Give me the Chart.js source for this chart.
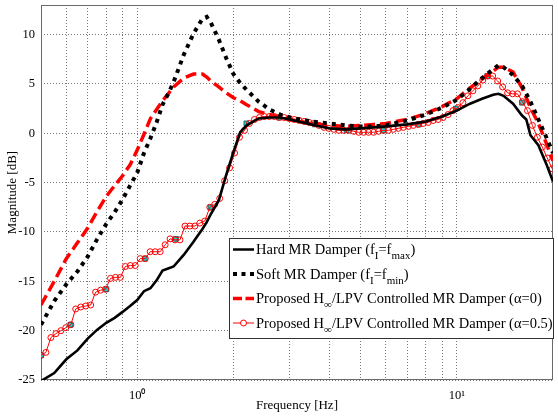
<!DOCTYPE html>
<html><head><meta charset="utf-8">
<script src="https://cdn.jsdelivr.net/npm/chart.js@4"></script>
<style>html,body{margin:0;padding:0;background:#fff;}canvas{display:block;}</style>
</head><body>
<canvas id="c" width="558" height="417"></canvas>
<script>
// ---- data ----
const freqLine = [0.5,0.55,0.6,0.65,0.7,0.75,0.8,0.85,0.9,0.95,1.0,1.05,1.1,1.15,1.2,1.25,1.3,1.4,1.5,1.6,1.65,1.7,1.8,1.9,2.0,2.1,2.2,2.4,2.6,2.8,3.0,3.5,4,4.5,5,5.5,6,7,8,9,10,11,12,13,13.5,14,15,16,16.5,17,18,19,20];
const hardMR = [-25.1,-24.3,-22.9,-22.0,-20.8,-19.9,-19.2,-18.7,-18.1,-17.5,-16.9,-16.0,-15.7,-14.9,-13.9,-13.7,-13.5,-12.3,-11.0,-9.7,-9.0,-8.2,-6.8,-4.2,-1.9,0.1,0.8,1.5,1.6,1.6,1.4,0.9,0.5,0.4,0.5,0.6,0.7,0.9,1.2,1.7,2.3,3.0,3.5,3.9,4.0,3.8,3.0,1.8,1.4,-0.2,-1.2,-3.0,-4.9];
const softMR = [-19.4,-17.0,-15.3,-14.0,-12.5,-10.7,-9.2,-8.0,-6.7,-5.3,-4.0,-2.0,-0.5,1.1,2.9,4.0,5.2,8.0,10.1,11.6,11.8,11.2,9.5,7.6,6.0,5.1,4.4,3.2,2.4,1.9,1.6,1.2,1.0,0.8,0.7,0.7,0.8,1.3,1.9,2.6,3.4,4.5,5.6,6.5,6.9,6.7,5.9,4.8,4.0,3.2,1.4,-0.3,-2.0];
const hinfAlpha0 = [-17.4,-15.0,-12.7,-11.1,-9.6,-7.9,-6.4,-5.3,-4.3,-3.2,-1.7,-0.1,1.5,2.4,3.3,4.0,4.7,5.6,6.0,6.0,5.7,5.3,4.7,4.1,3.6,3.3,2.9,2.2,1.9,1.6,1.4,1.0,0.8,0.7,0.8,0.9,1.0,1.4,2.0,2.7,3.5,4.6,5.5,6.3,6.7,6.7,6.2,4.6,3.6,2.6,1.0,-0.9,-2.8];
const freqCircle = [0.500,0.518,0.537,0.557,0.577,0.598,0.620,0.642,0.666,0.690,0.715,0.741,0.768,0.796,0.825,0.855,0.886,0.918,0.952,0.986,1.022,1.060,1.098,1.138,1.180,1.223,1.267,1.313,1.361,1.411,1.462,1.515,1.570,1.627,1.687,1.748,1.812,1.878,1.946,2.017,2.090,2.167,2.245,2.327,2.412,2.500,2.591,2.685,2.783,2.884,2.989,3.098,3.211,3.328,3.449,3.574,3.705,3.839,3.979,4.124,4.274,4.430,4.591,4.758,4.932,5.111,5.297,5.490,5.690,5.897,6.112,6.334,6.565,6.804,7.052,7.309,7.575,7.850,8.136,8.432,8.740,9.058,9.388,9.729,10.084,10.451,10.831,11.225,11.634,12.058,12.497,12.952,13.423,13.912,14.419,14.944,15.488,16.052,16.636,17.242,17.869,18.520,19.194,19.893];
const hinfAlpha05 = [-22.5,-22.2,-20.7,-20.3,-20.0,-19.7,-19.4,-17.8,-17.6,-17.5,-17.4,-16.1,-15.9,-15.8,-14.7,-14.6,-14.6,-13.5,-13.4,-13.4,-12.7,-12.7,-12.0,-12.0,-12.0,-11.3,-10.7,-10.8,-10.8,-9.4,-9.4,-9.4,-9.1,-8.9,-7.5,-7.2,-6.6,-4.8,-3.5,-2.0,-0.4,0.3,1.0,1.4,1.6,1.7,1.7,1.7,1.6,1.6,1.5,1.4,1.3,1.2,1.1,1.0,0.8,0.6,0.5,0.4,0.3,0.3,0.3,0.2,0.1,0.1,0.1,0.1,0.2,0.3,0.3,0.4,0.5,0.6,0.7,0.8,0.9,1.0,1.1,1.3,1.4,1.6,1.9,2.3,2.6,3.1,3.8,4.3,4.8,5.4,5.8,5.8,5.3,4.7,4.1,4.0,4.0,3.2,2.3,0.8,-0.4,-1.4,-2.5,-3.6];
const markFreq = [0.5,0.618,0.801,1.056,1.322,1.697,2.196,2.775,3.597,4.522,5.879,7.621,9.929,12.45,16.0];
const markVals = [-22.5,-19.4,-15.8,-12.7,-10.7,-7.5,1.0,1.6,0.9,0.3,0.3,0.9,2.5,5.8,3.1];
const xGridTicks = [0.6,0.7,0.8,0.9,1,2,3,4,5,6,7,8,9,10];
const xTickLabels = {1:'10\u2070', 10:'10\u00B9'};
const yTicks = [-25,-20,-15,-10,-5,0,5,10];
const xTitle = 'Frequency [Hz]';
const yTitle = 'Magnitude [dB]';
// legend text pieces: [text, isSubscript]
const legendRows = [
  [['Hard MR Damper (f',0],['I',1],['=f',0],['max',1],[')',0]],
  [['Soft MR Damper (f',0],['I',1],['=f',0],['min',1],[')',0]],
  [['Proposed H',0],['\u221E',1],['/LPV Controlled MR Damper (\u03B1=0)',0]],
  [['Proposed H',0],['\u221E',1],['/LPV Controlled MR Damper (\u03B1=0.5)',0]]
];

const pts = (xs, ys) => xs.map((x, i) => ({x: x, y: ys[i]}));
const SERIF = "'Liberation Serif','Times New Roman',serif";

const framePlugin = {
  id: 'frame',
  beforeDatasetsDraw(chart) {
    const {ctx, chartArea: a} = chart;
    ctx.save();
    ctx.strokeStyle = '#6a6a6a';
    ctx.lineWidth = 1;
    ctx.strokeRect(Math.round(a.left) + 0.5, Math.round(a.top) + 0.5, Math.round(a.right - a.left) - 1, Math.round(a.bottom - a.top) - 1);
    ctx.restore();
  }
};

const legendPlugin = {
  id: 'mlLegend',
  afterDatasetsDraw(chart) {
    const ctx = chart.ctx;
    const bx = 229.5, by = 238.5, bw = 324, bh = 100;
    ctx.save();
    ctx.fillStyle = '#fff';
    ctx.fillRect(bx, by, bw, bh);
    ctx.strokeStyle = '#333';
    ctx.lineWidth = 1;
    ctx.strokeRect(bx, by, bw, bh);
    const rowY = [249.5, 274, 298.5, 323];
    const x0 = 233, x1 = 254;
    ctx.strokeStyle = '#000'; ctx.lineWidth = 2.5; ctx.setLineDash([]);
    ctx.beginPath(); ctx.moveTo(x0, rowY[0]); ctx.lineTo(x1, rowY[0]); ctx.stroke();
    ctx.fillStyle = '#000';
    [235, 243.5, 252].forEach(cx => ctx.fillRect(cx - 2, rowY[1] - 2, 4, 4));
    ctx.strokeStyle = '#f00'; ctx.lineWidth = 3.5;
    ctx.beginPath(); ctx.moveTo(x0, rowY[2]); ctx.lineTo(242, rowY[2]); ctx.moveTo(245.5, rowY[2]); ctx.lineTo(x1, rowY[2]); ctx.stroke();
    ctx.lineWidth = 1;
    ctx.beginPath(); ctx.moveTo(x0, rowY[3]); ctx.lineTo(x1, rowY[3]); ctx.stroke();
    ctx.fillStyle = '#fff';
    ctx.beginPath(); ctx.arc(243.5, rowY[3], 3, 0, Math.PI * 2); ctx.fill(); ctx.stroke();
    ctx.fillStyle = '#000';
    ctx.textBaseline = 'alphabetic';
    ctx.textAlign = 'left';
    legendRows.forEach((segs, i) => {
      let x = 256;
      const base = rowY[i] + 4.5;
      segs.forEach(([t, sub]) => {
        ctx.font = (sub ? '11px ' : '14.5px ') + SERIF;
        ctx.fillText(t, x, sub ? base + 5 : base);
        x += ctx.measureText(t).width;
      });
    });
    ctx.restore();
  }
};

new Chart(document.getElementById('c'), {
  type: 'line',
  data: {
    datasets: [
      {label: 'Hard MR Damper', data: pts(freqLine, hardMR), borderColor: '#000', borderWidth: 2.6, pointRadius: 0, fill: false},
      {label: 'Soft MR Damper', data: pts(freqLine, softMR), borderColor: '#000', borderWidth: 4, borderDash: [4, 5], borderCapStyle: 'butt', pointRadius: 0, fill: false},
      {label: 'alpha=0', data: pts(freqLine, hinfAlpha0), borderColor: '#f00', borderWidth: 3.5, borderDash: [11, 5], pointRadius: 0, fill: false},
      {label: 'alpha=0.5', data: pts(freqCircle, hinfAlpha05), borderColor: '#f00', borderWidth: 1, pointRadius: 3, pointStyle: 'circle', pointBorderColor: '#f00', pointBackgroundColor: 'rgba(255,255,255,0)', pointBorderWidth: 1, fill: false},
      {label: 'marks', data: pts(markFreq, markVals), showLine: false, pointStyle: 'rect', pointRadius: 3.4, pointBackgroundColor: '#22d0d0', pointBorderColor: '#055', pointBorderWidth: 0.8}
    ]
  },
  options: {
    responsive: false,
    animation: false,
    devicePixelRatio: 1,
    layout: {padding: {top: 3, right: 1, left: 0, bottom: 0}},
    plugins: {legend: {display: false}, tooltip: {enabled: false}},
    elements: {line: {tension: 0}},
    scales: {
      x: {
        type: 'logarithmic', min: 0.5, max: 20,
        afterBuildTicks: s => { s.ticks = xGridTicks.map(v => ({value: v})); },
        afterFit: s => { s.height = 37; s.paddingLeft = 0; s.paddingRight = 0; },
        ticks: {autoSkip: false, maxRotation: 0, padding: 8, color: '#000', font: {family: SERIF, size: 12.5},
          callback: v => xTickLabels[v] || ''},
        grid: {color: '#777', lineWidth: 1, drawTicks: false},
        border: {display: false, dash: [1, 2]},
        title: {display: true, text: xTitle, color: '#000', font: {family: SERIF, size: 13}, padding: {top: 0, bottom: 4}}
      },
      y: {
        type: 'linear', min: -25, max: 13,
        afterBuildTicks: s => { s.ticks = yTicks.map(v => ({value: v})); },
        afterFit: s => { s.width = 41; s.paddingTop = 0; s.paddingBottom = 0; },
        ticks: {padding: 6, color: '#000', font: {family: SERIF, size: 12.5}},
        grid: {color: '#777', lineWidth: 1, drawTicks: false},
        border: {display: false, dash: [1, 2]},
        title: {display: true, text: yTitle, color: '#000', font: {family: SERIF, size: 13}, padding: {top: 5, bottom: 0}}
      }
    }
  },
  plugins: [framePlugin, legendPlugin]
});
</script>
</body></html>
